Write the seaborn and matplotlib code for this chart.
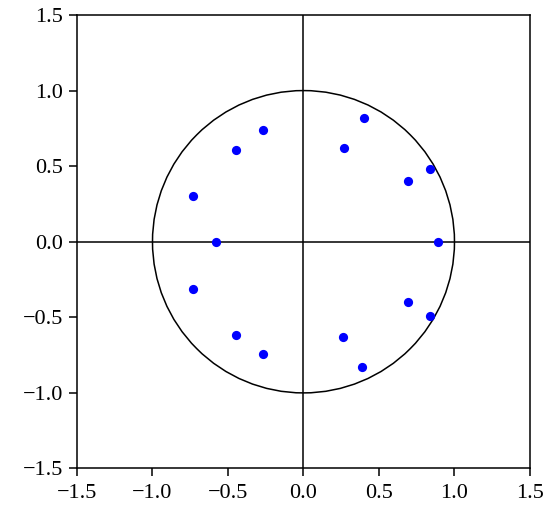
# Pole-zero style scatter on the unit circle
import seaborn as sns
import matplotlib.pyplot as plt
import pandas as pd

re_vals = [-0.27, -0.45, -0.73, -0.58, 0.40, 0.27, 0.84, 0.69, 0.89,
           -0.73, -0.45, -0.27, 0.69, 0.84, 0.26, 0.39]
im_vals = [0.74, 0.61, 0.30, 0.00, 0.82, 0.62, 0.48, 0.40, 0.00,
           -0.31, -0.62, -0.74, -0.40, -0.49, -0.63, -0.83]
tick_vals = [-1.5, -1.0, -0.5, 0.0, 0.5, 1.0, 1.5]

df = pd.DataFrame({"re": re_vals, "im": im_vals})

sns.set_theme(style="ticks")
plt.rcParams["font.family"] = ["Liberation Serif", "DejaVu Serif"]

fig = plt.figure(figsize=(5.5, 5.12), dpi=100)
ax = fig.add_axes([0.14, 0.085, 0.8236, 0.8857])

ax.axhline(0, color="black", linewidth=1.1, zorder=1)
ax.axvline(0, color="black", linewidth=1.1, zorder=1)
ax.add_patch(plt.Circle((0, 0), 1.0, fill=False, color="black", linewidth=1.1, zorder=1))

sns.scatterplot(data=df, x="re", y="im", ax=ax, color="#0000ff",
                s=44, linewidth=0, zorder=3)

ax.set_xlim(-1.5, 1.5)
ax.set_ylim(-1.5, 1.5)
ax.set_xticks(tick_vals)
ax.set_yticks(tick_vals)
labels = [f"{v:.1f}".replace("-", "\u2212") for v in tick_vals]
ax.set_xticklabels(labels)
ax.set_yticklabels(labels)
ax.set_xlabel("")
ax.set_ylabel("")
ax.tick_params(axis="both", direction="out", length=6, width=1.1,
               labelsize=16, color="black", labelcolor="black")
ax.tick_params(axis="x", pad=5)
ax.tick_params(axis="y", pad=4)
for sp in ax.spines.values():
    sp.set_color("black")
    sp.set_linewidth(1.1)

fig.savefig("out.png", dpi=100)
